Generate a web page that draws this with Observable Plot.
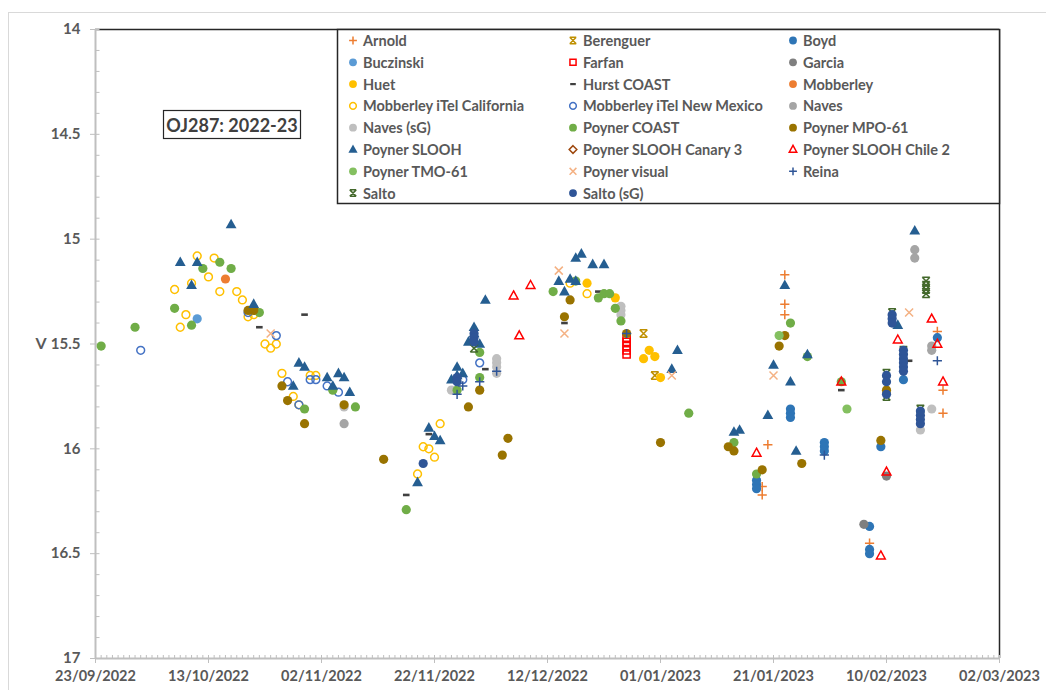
<!DOCTYPE html>
<html>
<head>
<meta charset="utf-8">
<script src="https://cdn.jsdelivr.net/npm/d3@7"></script>
<script src="https://cdn.jsdelivr.net/npm/@observablehq/plot@0.6"></script>
<style>
  body { margin: 0; background: #fff; }
  #chart { width: 1046px; height: 690px; }
</style>
</head>
<body>
<div id="chart"></div>
<script>
// OJ287 V-band photometry, 2022-23 season: [date, V magnitude] per observer.
const arnold = [["2023-01-19",16.18],["2023-01-19",16.22],["2023-01-20",15.98],["2023-01-23",15.17],["2023-01-23",15.31],["2023-01-23",15.36],["2023-02-07",16.45],["2023-02-19",15.44],["2023-02-20",15.72],["2023-02-20",15.83]];
const berenguer = [["2022-12-29",15.45],["2022-12-31",15.65]];
const boyd = [["2023-01-18",16.15],["2023-01-18",16.17],["2023-01-18",16.19],["2023-01-24",15.81],["2023-01-24",15.83],["2023-01-24",15.85],["2023-01-30",15.97],["2023-01-30",15.99],["2023-01-30",16.01],["2023-02-07",16.37],["2023-02-07",16.48],["2023-02-07",16.50],["2023-02-09",15.99],["2023-02-13",15.67],["2023-02-19",15.47]];
const buczinski = [["2022-10-11",15.38]];
const farfan = [["2022-12-26",15.47],["2022-12-26",15.49],["2022-12-26",15.51],["2022-12-26",15.53],["2022-12-26",15.55]];
const garcia = [["2023-02-06",16.36],["2023-02-10",16.13]];
const huet = [["2022-12-19",15.21],["2022-12-24",15.28],["2022-12-29",15.57],["2022-12-30",15.53],["2022-12-31",15.56],["2023-01-01",15.66]];
const hurstCoast = [["2022-10-22",15.42],["2022-10-30",15.36],["2022-11-17",16.22],["2022-11-21",15.93],["2022-12-01",15.62],["2022-12-15",15.40],["2022-12-21",15.25],["2023-02-02",15.72],["2023-02-14",15.58]];
const mobberley = [["2022-10-16",15.19]];
const mobberleyCalifornia = [["2022-10-07",15.24],["2022-10-08",15.42],["2022-10-09",15.36],["2022-10-10",15.21],["2022-10-11",15.08],["2022-10-13",15.18],["2022-10-14",15.09],["2022-10-15",15.25],["2022-10-18",15.25],["2022-10-19",15.29],["2022-10-20",15.37],["2022-10-21",15.36],["2022-10-23",15.50],["2022-10-24",15.52],["2022-10-25",15.50],["2022-10-26",15.64],["2022-10-28",15.75],["2022-10-29",15.79],["2022-10-31",15.65],["2022-11-01",15.65],["2022-11-19",16.12],["2022-11-20",15.99],["2022-11-21",16.00],["2022-11-22",16.04],["2022-11-23",15.88],["2022-12-16",15.21],["2022-12-19",15.26]];
const mobberleyNewMexico = [["2022-10-01",15.53],["2022-10-20",15.35],["2022-10-25",15.46],["2022-10-27",15.68],["2022-10-29",15.79],["2022-10-31",15.67],["2022-11-01",15.67],["2022-11-03",15.70],["2022-11-05",15.73],["2022-11-27",15.67],["2022-11-30",15.59]];
const naves = [["2022-11-06",15.88],["2023-02-15",15.05],["2023-02-15",15.09],["2023-02-18",15.51],["2023-02-18",15.53]];
const navesSG = [["2022-11-06",15.80],["2022-11-25",15.72],["2022-12-03",15.57],["2022-12-03",15.59],["2022-12-03",15.61],["2022-12-03",15.64],["2022-12-25",15.32],["2022-12-25",15.34],["2022-12-25",15.36],["2023-02-18",15.81],["2023-02-16",15.91]];
const poynerCoast = [["2022-09-24",15.51],["2022-09-30",15.42],["2022-10-07",15.33],["2022-10-10",15.41],["2022-10-12",15.14],["2022-10-15",15.11],["2022-10-17",15.14],["2022-10-22",15.35],["2022-10-30",15.81],["2022-11-04",15.72],["2022-11-08",15.80],["2022-11-17",16.29],["2022-11-26",15.72],["2022-11-30",15.66],["2022-11-30",15.54],["2022-12-13",15.25],["2022-12-17",15.20],["2022-12-21",15.28],["2022-12-22",15.26],["2022-12-23",15.26],["2022-12-24",15.33],["2022-12-25",15.39],["2023-01-06",15.83],["2023-01-14",15.97],["2023-01-18",16.12],["2023-01-24",15.40],["2023-01-27",15.56],["2023-02-02",15.68]];
const poynerMPO61 = [["2022-10-20",15.34],["2022-10-21",15.34],["2022-10-21",15.33],["2022-10-26",15.70],["2022-10-27",15.77],["2022-10-30",15.88],["2022-11-06",15.79],["2022-11-13",16.05],["2022-11-28",15.80],["2022-11-30",15.72],["2022-12-04",16.03],["2022-12-05",15.95],["2022-12-15",15.37],["2022-12-16",15.29],["2022-12-26",15.45],["2023-01-01",15.97],["2023-01-13",15.99],["2023-01-14",16.01],["2023-01-19",16.10],["2023-01-22",15.51],["2023-01-23",15.46],["2023-01-26",16.07],["2023-02-09",15.96],["2023-02-10",15.72]];
const poynerSlooh = [["2022-10-08",15.11],["2022-10-10",15.22],["2022-10-11",15.11],["2022-10-17",14.93],["2022-10-21",15.31],["2022-10-28",15.70],["2022-10-29",15.59],["2022-10-30",15.61],["2022-11-03",15.66],["2022-11-04",15.70],["2022-11-05",15.64],["2022-11-06",15.66],["2022-11-07",15.73],["2022-11-19",16.16],["2022-11-21",15.90],["2022-11-22",15.94],["2022-11-23",15.96],["2022-11-25",15.67],["2022-11-26",15.61],["2022-11-26",15.65],["2022-11-27",15.64],["2022-11-28",15.49],["2022-11-29",15.42],["2022-11-29",15.45],["2022-11-30",15.50],["2022-12-01",15.29],["2022-12-14",15.20],["2022-12-15",15.25],["2022-12-16",15.19],["2022-12-17",15.09],["2022-12-17",15.20],["2022-12-18",15.07],["2022-12-20",15.12],["2022-12-22",15.12],["2023-01-03",15.62],["2023-01-04",15.53],["2023-01-14",15.92],["2023-01-15",15.91],["2023-01-20",15.84],["2023-01-21",15.60],["2023-01-23",15.22],["2023-01-24",15.68],["2023-01-25",16.01],["2023-01-27",15.55],["2023-02-12",15.41],["2023-02-15",14.96]];
const poynerCanary3 = [];
const poynerChile2 = [["2022-12-06",15.27],["2022-12-07",15.46],["2022-12-09",15.22],["2023-01-18",16.02],["2023-02-02",15.68],["2023-02-09",16.51],["2023-02-10",16.11],["2023-02-12",15.48],["2023-02-18",15.38],["2023-02-19",15.50],["2023-02-20",15.68]];
const poynerTMO61 = [["2023-01-22",15.46],["2023-02-03",15.81]];
const poynerVisual = [["2022-10-24",15.45],["2022-12-14",15.15],["2022-12-15",15.45],["2023-01-03",15.65],["2023-01-21",15.65],["2023-02-14",15.35]];
const reina = [["2022-11-26",15.74],["2022-11-27",15.70],["2022-11-30",15.68],["2022-12-03",15.63],["2022-12-26",15.45],["2023-01-30",16.03],["2023-02-19",15.58]];
const salto = [["2022-11-29",15.52],["2023-02-10",15.64],["2023-02-10",15.75],["2023-02-11",15.35],["2023-02-13",15.53],["2023-02-16",15.81],["2023-02-17",15.20],["2023-02-17",15.22],["2023-02-17",15.24],["2023-02-17",15.26]];
const saltoSG = [["2022-11-20",16.07],["2022-11-26",15.66],["2022-11-26",15.68],["2022-11-29",15.45],["2022-11-29",15.47],["2022-11-29",15.49],["2023-02-10",15.65],["2023-02-10",15.68],["2023-02-10",15.74],["2023-02-11",15.36],["2023-02-11",15.38],["2023-02-11",15.40],["2023-02-13",15.53],["2023-02-13",15.55],["2023-02-13",15.57],["2023-02-13",15.59],["2023-02-13",15.61],["2023-02-13",15.63],["2023-02-16",15.82],["2023-02-16",15.84],["2023-02-16",15.86],["2023-02-16",15.88]];

const xTickLabels = ["23/09/2022","13/10/2022","02/11/2022","22/11/2022","12/12/2022","01/01/2023","21/01/2023","10/02/2023","02/03/2023"];
const yTickLabels = ["14","14.5","15","15.5","16","16.5","17"];
const chartTitle = "OJ287: 2022-23";
const yTitle = "V";

// Marker shapes in the style of spreadsheet chart markers (k scales them).
function makeSymbols(k) {
  return {
    circle: {draw(c) { const r = 4.6 * k; c.moveTo(r, 0); c.arc(0, 0, r, 0, 2 * Math.PI); }},
    ring: {draw(c) { const r = 3.9 * k; c.moveTo(r, 0); c.arc(0, 0, r, 0, 2 * Math.PI); }},
    triangle: {draw(c) { c.moveTo(0, -5.8 * k); c.lineTo(5.4 * k, 3.8 * k); c.lineTo(-5.4 * k, 3.8 * k); c.closePath(); }},
    openTriangle: {draw(c) { c.moveTo(0, -4.8 * k); c.lineTo(4.4 * k, 3.2 * k); c.lineTo(-4.4 * k, 3.2 * k); c.closePath(); }},
    square: {draw(c) { const s = 3.6 * k; c.moveTo(-s, -s); c.lineTo(s, -s); c.lineTo(s, s); c.lineTo(-s, s); c.closePath(); }},
    diamond: {draw(c) { const s = 4.5 * k; c.moveTo(0, -s); c.lineTo(s, 0); c.lineTo(0, s); c.lineTo(-s, 0); c.closePath(); }},
    plus: {draw(c) { const s = 4.6 * k; c.moveTo(-s, 0); c.lineTo(s, 0); c.moveTo(0, -s); c.lineTo(0, s); }},
    times: {draw(c) { const s = 4 * k; c.moveTo(-s, -s); c.lineTo(s, s); c.moveTo(s, -s); c.lineTo(-s, s); }},
    star: {draw(c) { const s = 3.8 * k; c.moveTo(-s, -s); c.lineTo(s, s); c.moveTo(s, -s); c.lineTo(-s, s); c.moveTo(-s, -s); c.lineTo(s, -s); c.moveTo(-s, s); c.lineTo(s, s); }},
    dash: {draw(c) { const w = 3.3 * k, h = 1.3 * k; c.moveTo(-w, -h); c.lineTo(w, -h); c.lineTo(w, h); c.lineTo(-w, h); c.closePath(); }}
  };
}

// Short axis tick marks drawn inward from the axis line.
const tickUp = {draw(c) { c.moveTo(0, 0); c.lineTo(0, -3.5); }};
const tickRight = {draw(c) { c.moveTo(0, 0); c.lineTo(4, 0); }};

const series = [
  {name: "Arnold", data: arnold, shape: "plus", color: "#ED7D31", filled: false},
  {name: "Berenguer", data: berenguer, shape: "star", color: "#BF9000", filled: false},
  {name: "Boyd", data: boyd, shape: "circle", color: "#2E75B6", filled: true},
  {name: "Buczinski", data: buczinski, shape: "circle", color: "#5B9BD5", filled: true},
  {name: "Farfan", data: farfan, shape: "square", color: "#FF0000", filled: false},
  {name: "Garcia", data: garcia, shape: "circle", color: "#7F7F7F", filled: true},
  {name: "Huet", data: huet, shape: "circle", color: "#FFC000", filled: true},
  {name: "Hurst COAST", data: hurstCoast, shape: "dash", color: "#404040", filled: true},
  {name: "Mobberley", data: mobberley, shape: "circle", color: "#ED7D31", filled: true},
  {name: "Mobberley iTel California", data: mobberleyCalifornia, shape: "ring", color: "#FFC000", filled: false},
  {name: "Mobberley iTel New Mexico", data: mobberleyNewMexico, shape: "ring", color: "#4472C4", filled: false},
  {name: "Naves", data: naves, shape: "circle", color: "#A5A5A5", filled: true},
  {name: "Naves (sG)", data: navesSG, shape: "circle", color: "#BFBFBF", filled: true},
  {name: "Poyner COAST", data: poynerCoast, shape: "circle", color: "#70AD47", filled: true},
  {name: "Poyner MPO-61", data: poynerMPO61, shape: "circle", color: "#997300", filled: true},
  {name: "Poyner SLOOH", data: poynerSlooh, shape: "triangle", color: "#255E91", filled: true},
  {name: "Poyner SLOOH Canary 3", data: poynerCanary3, shape: "diamond", color: "#9E480E", filled: false},
  {name: "Poyner SLOOH Chile 2", data: poynerChile2, shape: "openTriangle", color: "#FF0000", filled: false},
  {name: "Poyner TMO-61", data: poynerTMO61, shape: "circle", color: "#84C060", filled: true},
  {name: "Poyner visual", data: poynerVisual, shape: "times", color: "#F4B183", filled: false},
  {name: "Reina", data: reina, shape: "plus", color: "#2F5597", filled: false},
  {name: "Salto", data: salto, shape: "star", color: "#43682B", filled: false},
  {name: "Salto (sG)", data: saltoSG, shape: "circle", color: "#2F5597", filled: true}
];

const parseISO = d3.utcParse("%Y-%m-%d");
const parseTick = d3.utcParse("%d/%m/%Y");
const xTicks = xTickLabels.map(parseTick);
const xStart = xTicks[0], xEnd = xTicks[xTicks.length - 1];
const xMinor = d3.utcDay.range(xStart, d3.utcDay.offset(xEnd, 1));
const yTicks = yTickLabels.map(Number);
const yMinor = d3.range(140, 171).map(v => v / 10);

const axisGray = "#BFBFBF";
const textGray = "#595959";
const frameDark = "#262626";
const font = "Lato, 'Open Sans', sans-serif";

const plotSymbols = makeSymbols(1);
const dotMarks = series.map(s => {
  const rows = s.data.map(([d, v]) => ({date: parseISO(d), v}));
  return Plot.dot(rows, {
    x: "date", y: "v",
    symbol: plotSymbols[s.shape],
    fill: s.filled ? s.color : "none",
    stroke: s.filled ? "none" : s.color,
    strokeWidth: 1.5
  });
});

const svg = Plot.plot({
  width: 1046, height: 690,
  marginLeft: 95, marginRight: 47, marginTop: 29, marginBottom: 32,
  style: {fontFamily: font, background: "#fff", overflow: "visible"},
  x: {type: "utc", domain: [xStart, xEnd], label: null},
  y: {domain: [14, 17], reverse: true, label: null},
  marks: [
    Plot.ruleY([14], {stroke: frameDark, strokeWidth: 1.5}),
    Plot.ruleX([xEnd], {stroke: frameDark, strokeWidth: 1.5}),
    // minor ticks, inside the plot area
    Plot.dot(yMinor, {x: () => xStart, y: d => d, symbol: tickRight, stroke: axisGray, strokeWidth: 1, fill: "none"}),
    Plot.dot(xMinor, {x: d => d, y: () => 17, symbol: tickUp, stroke: axisGray, strokeWidth: 1, fill: "none"}),
    Plot.axisY({ticks: yTicks, tickSize: 5, tickPadding: 10, tickFormat: d => yTickLabels[yTicks.indexOf(d)],
                label: null, stroke: axisGray, fill: textGray, fontSize: 15, fontWeight: "bold"}),
    Plot.axisX({ticks: xTicks, tickSize: 5, tickPadding: 7, tickFormat: d => xTickLabels[xTicks.findIndex(t => +t === +d)],
                label: null, stroke: axisGray, fill: textGray, fontSize: 14.5, fontWeight: "bold"}),
    Plot.ruleX([xStart], {stroke: axisGray, strokeWidth: 2}),
    Plot.ruleY([17], {stroke: axisGray, strokeWidth: 2}),
    ...dotMarks,
    Plot.text([yTitle], {frameAnchor: "left", dx: -60, fontSize: 16, fontWeight: "bold", fill: textGray})
  ]
});

document.getElementById("chart").appendChild(svg);
const root = d3.select(svg);

// Light outer chart border
root.insert("rect", ":first-child")
  .attr("x", 8.5).attr("y", 12.5).attr("width", 1040).attr("height", 700)
  .attr("fill", "none").attr("stroke", "#D9D9D9");

// Title box
const title = root.append("g");
title.append("rect").attr("x", 163.5).attr("y", 110.5).attr("width", 137).attr("height", 28)
  .attr("fill", "#fff").attr("stroke", frameDark).attr("stroke-width", 1.2);
title.append("text").attr("x", 232).attr("y", 125).attr("text-anchor", "middle")
  .attr("dominant-baseline", "central").attr("font-family", font).attr("font-size", 18)
  .attr("font-weight", "bold").attr("fill", "#404040").text(chartTitle);

// Legend: three columns, row-major
const legendSymbols = makeSymbols(0.85);
const legend = root.append("g");
legend.append("rect").attr("x", 337.5).attr("y", 29.5).attr("width", 662).attr("height", 174)
  .attr("fill", "#fff").attr("stroke", frameDark).attr("stroke-width", 1.5);
series.forEach((s, i) => {
  const col = i % 3, row = Math.floor(i / 3);
  const cx = 353 + col * 220, cy = 40.5 + row * 21.8;
  const p = d3.path();
  legendSymbols[s.shape].draw(p);
  legend.append("path").attr("d", p.toString()).attr("transform", `translate(${cx},${cy})`)
    .attr("fill", s.filled ? s.color : "none").attr("stroke", s.filled ? "none" : s.color)
    .attr("stroke-width", 1.5);
  legend.append("text").attr("x", cx + 10).attr("y", cy).attr("dominant-baseline", "central")
    .attr("text-anchor", "start")
    .attr("font-family", font).attr("font-size", 14.5).attr("font-weight", "bold")
    .attr("fill", textGray).text(s.name);
});
</script>
</body>
</html>
